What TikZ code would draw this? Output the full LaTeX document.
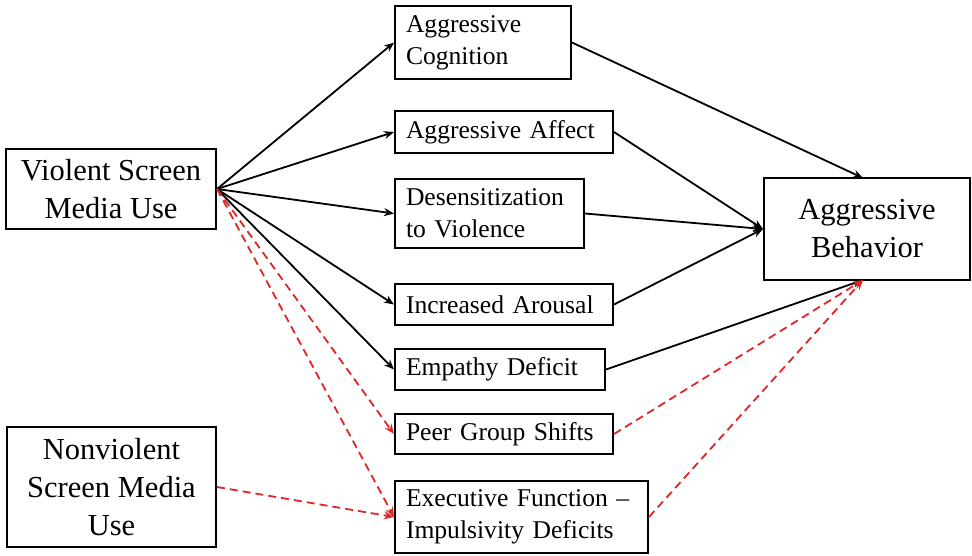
\documentclass[tikz,border=0pt]{standalone}
\usepackage{fontspec}
\setmainfont{Liberation Serif}
\usetikzlibrary{arrows.meta}
\definecolor{pathred}{RGB}{222,38,38}
\begin{document}
\begin{tikzpicture}[x=1pt,y=-1pt,
  box/.style={draw=black,line width=2pt,fill=white,inner sep=0pt},
  bigbox/.style={box,align=center,font=\fontsize{30.5}{38}\selectfont},
  smallbox/.style={box,font=\fontsize{25.6}{32}\selectfont},
  link/.style={line width=1.8pt,-{Stealth[length=10pt,width=8pt]}},
  redlink/.style={link,pathred,dash pattern=on 8pt off 5pt}]
\useasboundingbox (0,0) rectangle (972,555);

% sources and outcome
\node[bigbox,minimum width=210pt,minimum height=80pt] (violent) at (111,189) {Violent Screen\\Media Use};
\node[bigbox,minimum width=209pt,minimum height=120pt] (nonviolent) at (111.5,487) {Nonviolent\\Screen Media\\Use};
\node[bigbox,minimum width=206pt,minimum height=102pt] (behavior) at (867,229) {Aggressive\\Behavior};

% mediating processes
\node[smallbox,minimum width=176pt,minimum height=73pt,text width=154pt,align=left] (cognition) at (483,42.5) {Aggressive\\Cognition};
\node[smallbox,minimum width=218pt,minimum height=42pt,text width=196pt,align=left] (affect) at (504,132) {Aggressive Affect};
\node[smallbox,minimum width=189pt,minimum height=69pt,text width=167pt,align=left] (desens) at (489.5,213.5) {Desensitization\\to Violence};
\node[smallbox,minimum width=218pt,minimum height=41pt,text width=196pt,align=left] (arousal) at (504,304.5) {Increased Arousal};
\node[smallbox,minimum width=210pt,minimum height=41pt,text width=188pt,align=left] (empathy) at (500,369.5) {Empathy Deficit};
\node[smallbox,minimum width=218pt,minimum height=40pt,text width=196pt,align=left] (peer) at (504,434) {Peer Group Shifts};
\node[smallbox,minimum width=253pt,minimum height=72pt,text width=231pt,align=left] (exec) at (521.5,517) {Executive Function --\\Impulsivity Deficits};

% entry points on the outcome box
\coordinate (btop) at (863,178);
\coordinate (bbot) at (863,280);

% paths from violent media use
\draw[link] (violent.east) -- (cognition.west);
\draw[link] (violent.east) -- (affect.west);
\draw[link] (violent.east) -- (desens.west);
\draw[link] (violent.east) -- (arousal.west);
\draw[link] (violent.east) -- (empathy.west);
\draw[redlink] (violent.east) -- (peer.west);
\draw[redlink] (violent.east) -- (exec.west);
\draw[redlink] (nonviolent.east) -- (exec.west);

% paths to aggressive behavior
\draw[link] (cognition.east) -- (btop);
\draw[link] (affect.east) -- (behavior.west);
\draw[link] (desens.east) -- (behavior.west);
\draw[link] (arousal.east) -- (behavior.west);
\draw[link] (empathy.east) -- (bbot);
\draw[redlink] (peer.east) -- (bbot);
\draw[redlink] (exec.east) -- (bbot);
\end{tikzpicture}
\end{document}
